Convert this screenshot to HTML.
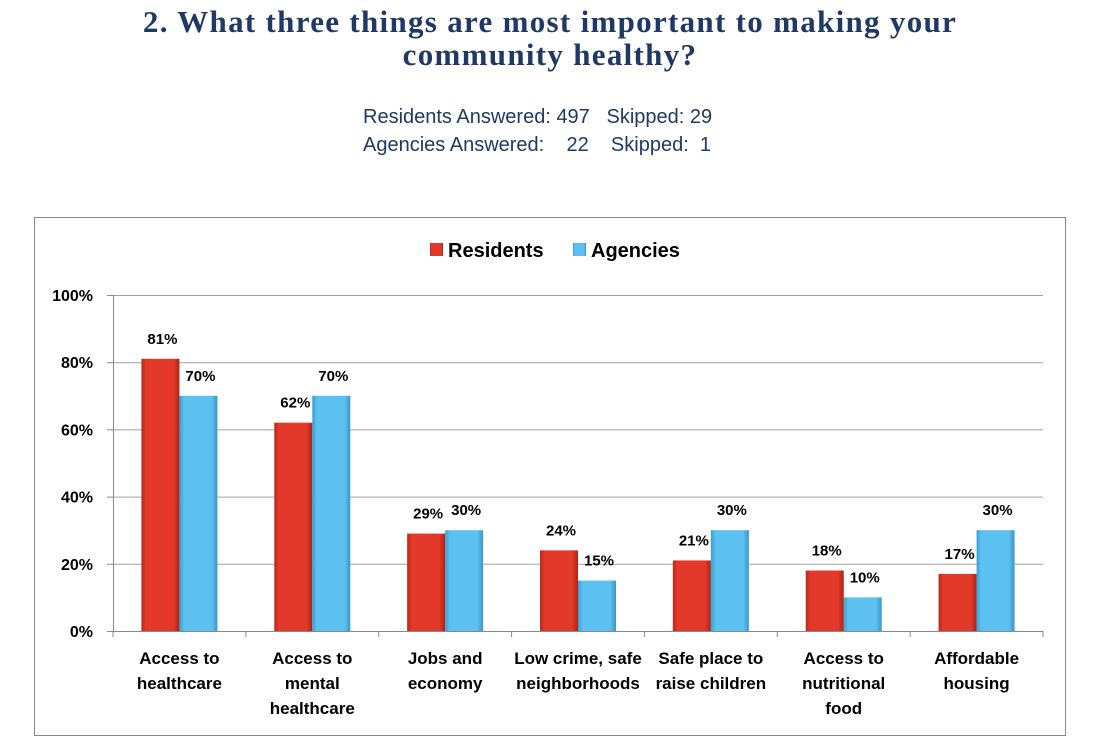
<!DOCTYPE html>
<html><head><meta charset="utf-8"><style>
body{margin:0;background:#fff;width:1100px;height:755px;overflow:hidden;position:relative;font-family:"Liberation Sans",sans-serif}
#title{position:absolute;left:0;width:1100px;top:5px;text-align:center;font-family:"Liberation Serif",serif;font-weight:bold;font-size:31px;letter-spacing:1.3px;line-height:33px;color:#1f3864}
#sub{position:absolute;left:363px;top:103px;font-size:20px;line-height:28px;color:#1f3864;white-space:pre}
svg{position:absolute;left:0;top:0}
</style></head><body>
<div id="title">2. What three things are most important to making your<br>community healthy?</div>
<div id="sub">Residents Answered: 497   Skipped: 29
Agencies Answered:    22    Skipped:  1</div>
<svg id="chart" width="1100" height="755">
<defs>
<linearGradient id="gr" x1="0" x2="1"><stop offset="0" stop-color="#b8281a"/><stop offset="0.12" stop-color="#e3392a"/><stop offset="0.85" stop-color="#e3392a"/><stop offset="1" stop-color="#a82416"/></linearGradient>
<linearGradient id="gb" x1="0" x2="1"><stop offset="0" stop-color="#3a9fd0"/><stop offset="0.12" stop-color="#5cc0f0"/><stop offset="0.85" stop-color="#5cc0f0"/><stop offset="1" stop-color="#3a96c6"/></linearGradient>
</defs>
<rect x="34.5" y="217.5" width="1031" height="518" fill="#fff" stroke="#888"/>
</svg>
<script>
const categories=[["Access to","healthcare"],["Access to","mental","healthcare"],["Jobs and","economy"],["Low crime, safe","neighborhoods"],["Safe place to","raise children"],["Access to","nutritional","food"],["Affordable","housing"]];
const residents=[81,62,29,24,21,18,17];
const agencies=[70,70,30,15,30,10,30];
const ticks=[0,20,40,60,80,100];
const svg=document.getElementById('chart');const NS='http://www.w3.org/2000/svg';
const X0=113,X1=1043,Y0=631,Y1=295;
const cw=(X1-X0)/categories.length,bw=38;
const y=v=>Y0-(v/100)*(Y0-Y1);
function mk(t,a){const e=document.createElementNS(NS,t);for(const k in a)e.setAttribute(k,a[k]);svg.appendChild(e);return e;}
ticks.forEach(t=>{
 const l=mk('line',{x1:X0,x2:X1,y1:y(t)+.5,y2:y(t)+.5,stroke:t?'#a0a0a0':'#888','stroke-width':1});
 
 
 const tx=mk('text',{x:93,y:y(t)+6,'text-anchor':'end','font-size':16,'font-weight':'bold',fill:'#000'});tx.textContent=t+'%';
 
 
 mk('line',{x1:X0-6,x2:X0,y1:y(t)+.5,y2:y(t)+.5,stroke:'#888'});
});
mk('line',{x1:X0+.5,x2:X0+.5,y1:Y1,y2:Y0,stroke:'#888'});
for(let i=0;i<=categories.length;i++)mk('line',{x1:X0+i*cw,x2:X0+i*cw,y1:Y0,y2:Y0+6,stroke:'#888'});
categories.forEach((c,i)=>{
 const cx=X0+cw*i+cw/2;
 [[residents[i],'url(#gr)',cx-bw,'bar-residents'],[agencies[i],'url(#gb)',cx,'bar-agencies']].forEach(([v,f,x,n])=>{
  const r=mk('rect',{x:x,y:y(v),width:bw,height:Y0-y(v),fill:f});
  
  
  const t=mk('text',{x:x+bw/2+2,y:y(v)-15,'text-anchor':'middle','font-size':15,'font-weight':'bold',fill:'#000'});t.textContent=v+'%';
  
  
 });
 c.forEach((ln,j)=>{const t=mk('text',{x:cx,y:664+j*25,'text-anchor':'middle','font-size':17,'font-weight':'bold',fill:'#000'});t.textContent=ln;
  
  });
});
[['Residents','url(#gr)',430],['Agencies','url(#gb)',573]].forEach(([n,f,x])=>{
 const r=mk('rect',{x:x,y:243,width:13,height:13,fill:f});
 
 
 const t=mk('text',{x:x+18,y:257,'font-size':20,'font-weight':'bold',fill:'#000'});t.textContent=n;
 
 
});
</script>
</body></html>
